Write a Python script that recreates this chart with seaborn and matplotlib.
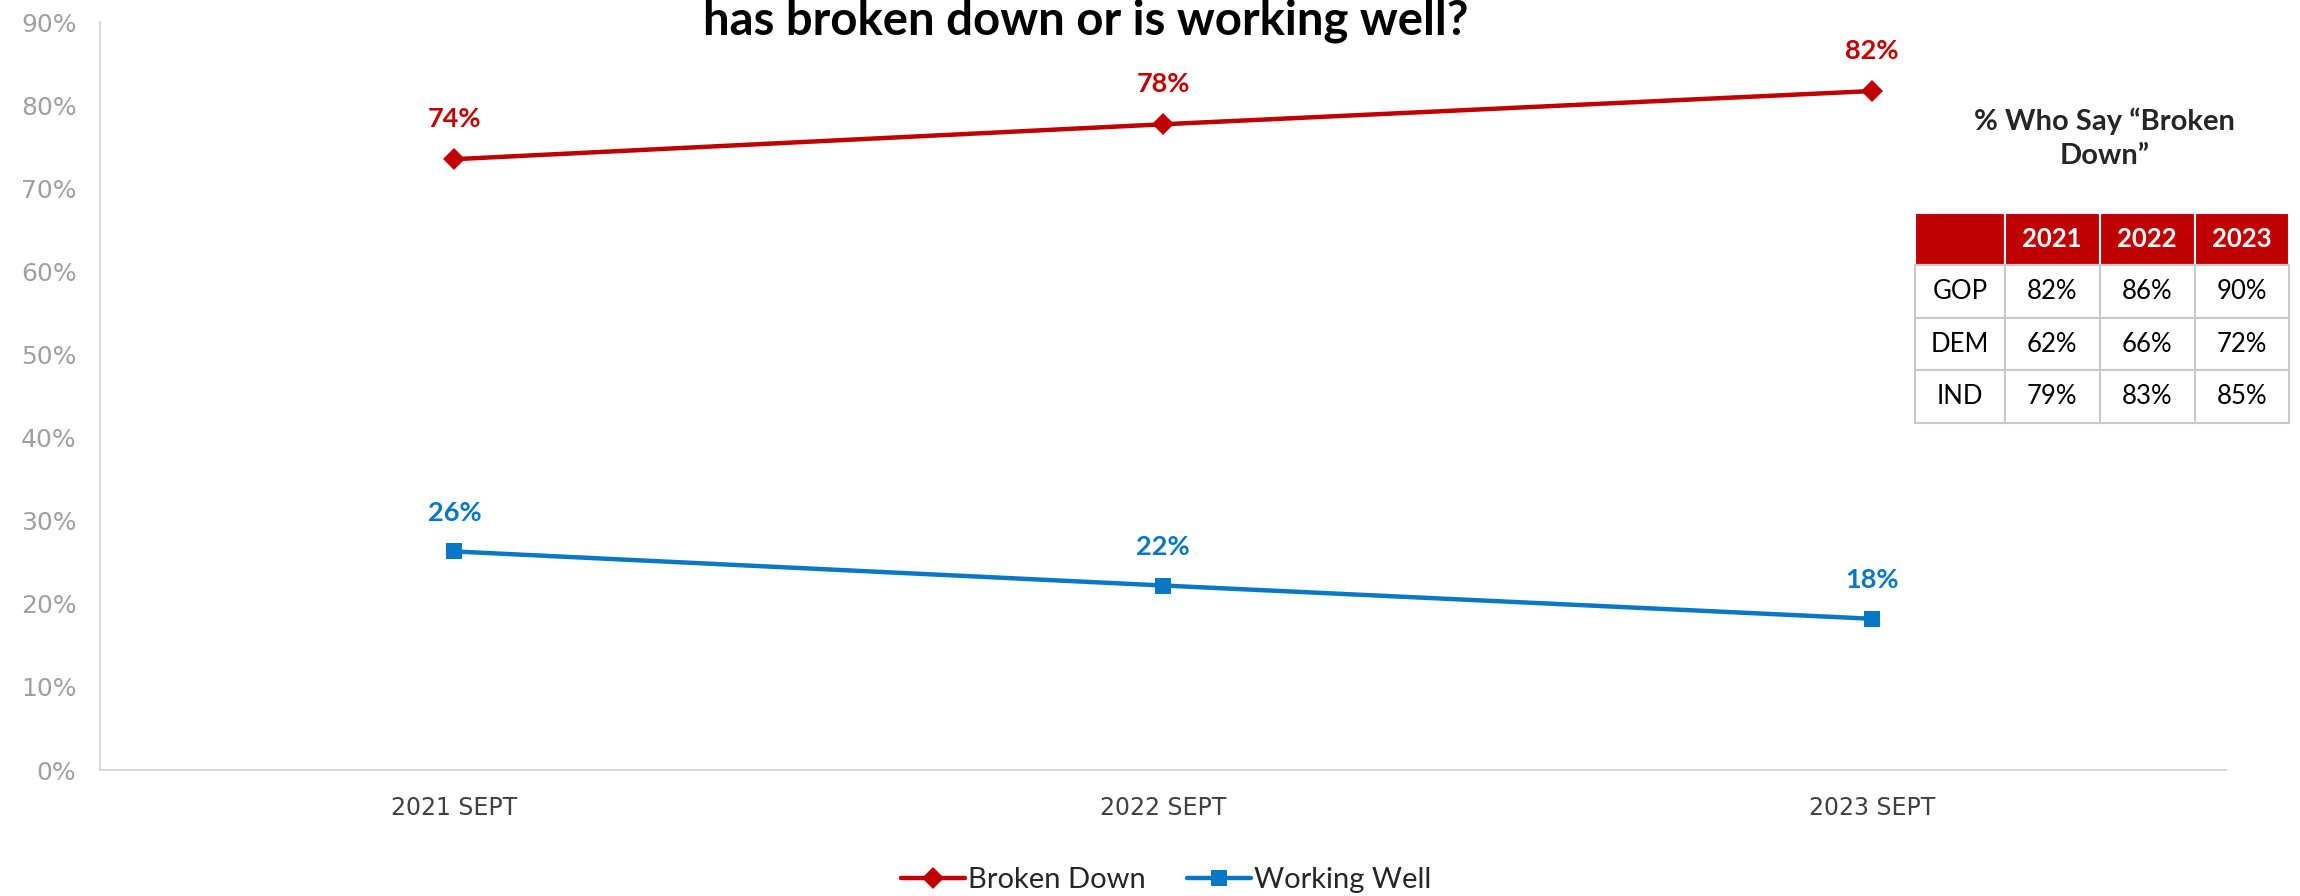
import matplotlib
matplotlib.use("Agg")
import matplotlib.pyplot as plt
import seaborn as sns
import pandas as pd

# chart data
waves = ["2021 SEPT", "2022 SEPT", "2023 SEPT"]
broken_down = [73.5, 77.7, 81.7]
working_well = [26.3, 22.2, 18.2]
broken_labels = ["74%", "78%", "82%"]
working_labels = ["26%", "22%", "18%"]
y_ticks = [0, 10, 20, 30, 40, 50, 60, 70, 80, 90]

# party table
table_title = "% Who Say \u201cBroken\nDown\u201d"
table_cols = ["", "2021", "2022", "2023"]
table_rows = ["GOP", "DEM", "IND"]
table_vals = [["82%", "86%", "90%"],
              ["62%", "66%", "72%"],
              ["79%", "83%", "85%"]]

RED = "#C00000"
BLUE = "#0877C6"

sns.set_theme(style="white")
plt.rcParams["font.family"] = ["Lato", "DejaVu Sans"]

df = pd.DataFrame({
    "wave": waves * 2,
    "pct": broken_down + working_well,
    "series": ["Broken Down"] * 3 + ["Working Well"] * 3,
})

fig = plt.figure(figsize=(23, 8.96), dpi=100)
ax = fig.add_axes([0.0435, 0.1406, 0.9245, 0.8348])

sns.lineplot(data=df, x="wave", y="pct", hue="series", style="series",
             markers={"Broken Down": "D", "Working Well": "s"}, dashes=False,
             palette={"Broken Down": RED, "Working Well": BLUE},
             linewidth=3.2, markersize=11, markeredgewidth=0, ax=ax, legend="brief")

ax.set_xlim(-0.5, 2.5)
ax.set_ylim(0, 90)
ax.set_yticks(y_ticks)
ax.set_yticklabels([f"{t}%" for t in y_ticks], family="DejaVu Sans")
ax.tick_params(axis="y", length=0, pad=17, labelsize=18, labelcolor="#A0A0A0")
ax.tick_params(axis="x", length=0, pad=19, labelsize=17, labelcolor="#404040")
for lbl in ax.get_xticklabels():
    lbl.set_family("DejaVu Sans")
ax.set_xlabel("")
ax.set_ylabel("")
for s in ["top", "right"]:
    ax.spines[s].set_visible(False)
for s in ["left", "bottom"]:
    ax.spines[s].set_color("#D9D9D9")
    ax.spines[s].set_linewidth(1.5)

# data labels
for i, (v, t) in enumerate(zip(broken_down, broken_labels)):
    ax.annotate(t, (i, v), xytext=(0, 29), textcoords="offset points",
                ha="center", va="center", fontsize=19.5, fontweight="bold", color=RED)
for i, (v, t) in enumerate(zip(working_well, working_labels)):
    ax.annotate(t, (i, v), xytext=(0, 28), textcoords="offset points",
                ha="center", va="center", fontsize=19.5, fontweight="bold", color=BLUE)

# legend at bottom
handles, labels = ax.get_legend_handles_labels()
ax.get_legend().remove()
fig.legend(handles, labels, loc="center", bbox_to_anchor=(0.507, 0.018), ncol=2,
           frameon=False, fontsize=21, handlelength=2.2, handletextpad=0.1,
           columnspacing=1.4)

# title (top line runs off the slide in the original)
fig.text(0.472, 0.962, "has broken down or is working well?", ha="center",
         va="baseline", fontsize=34, fontweight="bold", color="black")

# table title
fig.text(0.915, 0.846, table_title, ha="center", va="center", fontsize=21,
         fontweight="bold", linespacing=1.4)

# party table
tax = fig.add_axes([0.8326, 0.5279, 0.1626, 0.2344])
tax.axis("off")
cell_text = [[r] + vals for r, vals in zip(table_rows, table_vals)]
tbl = tax.table(cellText=cell_text, colLabels=table_cols, bbox=[0, 0, 1, 1],
                cellLoc="center", colWidths=[0.24, 0.254, 0.254, 0.252])
tbl.auto_set_font_size(False)
for (r, c), cell in tbl.get_celld().items():
    cell.set_edgecolor("#C8C8C8")
    cell.set_linewidth(1.5)
    cell.get_text().set_fontsize(18.5)
    if r == 0:
        cell.set_facecolor(RED)
        cell.set_edgecolor("white")
        cell.get_text().set_color("white")
        cell.get_text().set_fontweight("bold")
    else:
        cell.set_facecolor("white")
        cell.get_text().set_color("black")

fig.savefig("out.png", dpi=100, facecolor="white")
